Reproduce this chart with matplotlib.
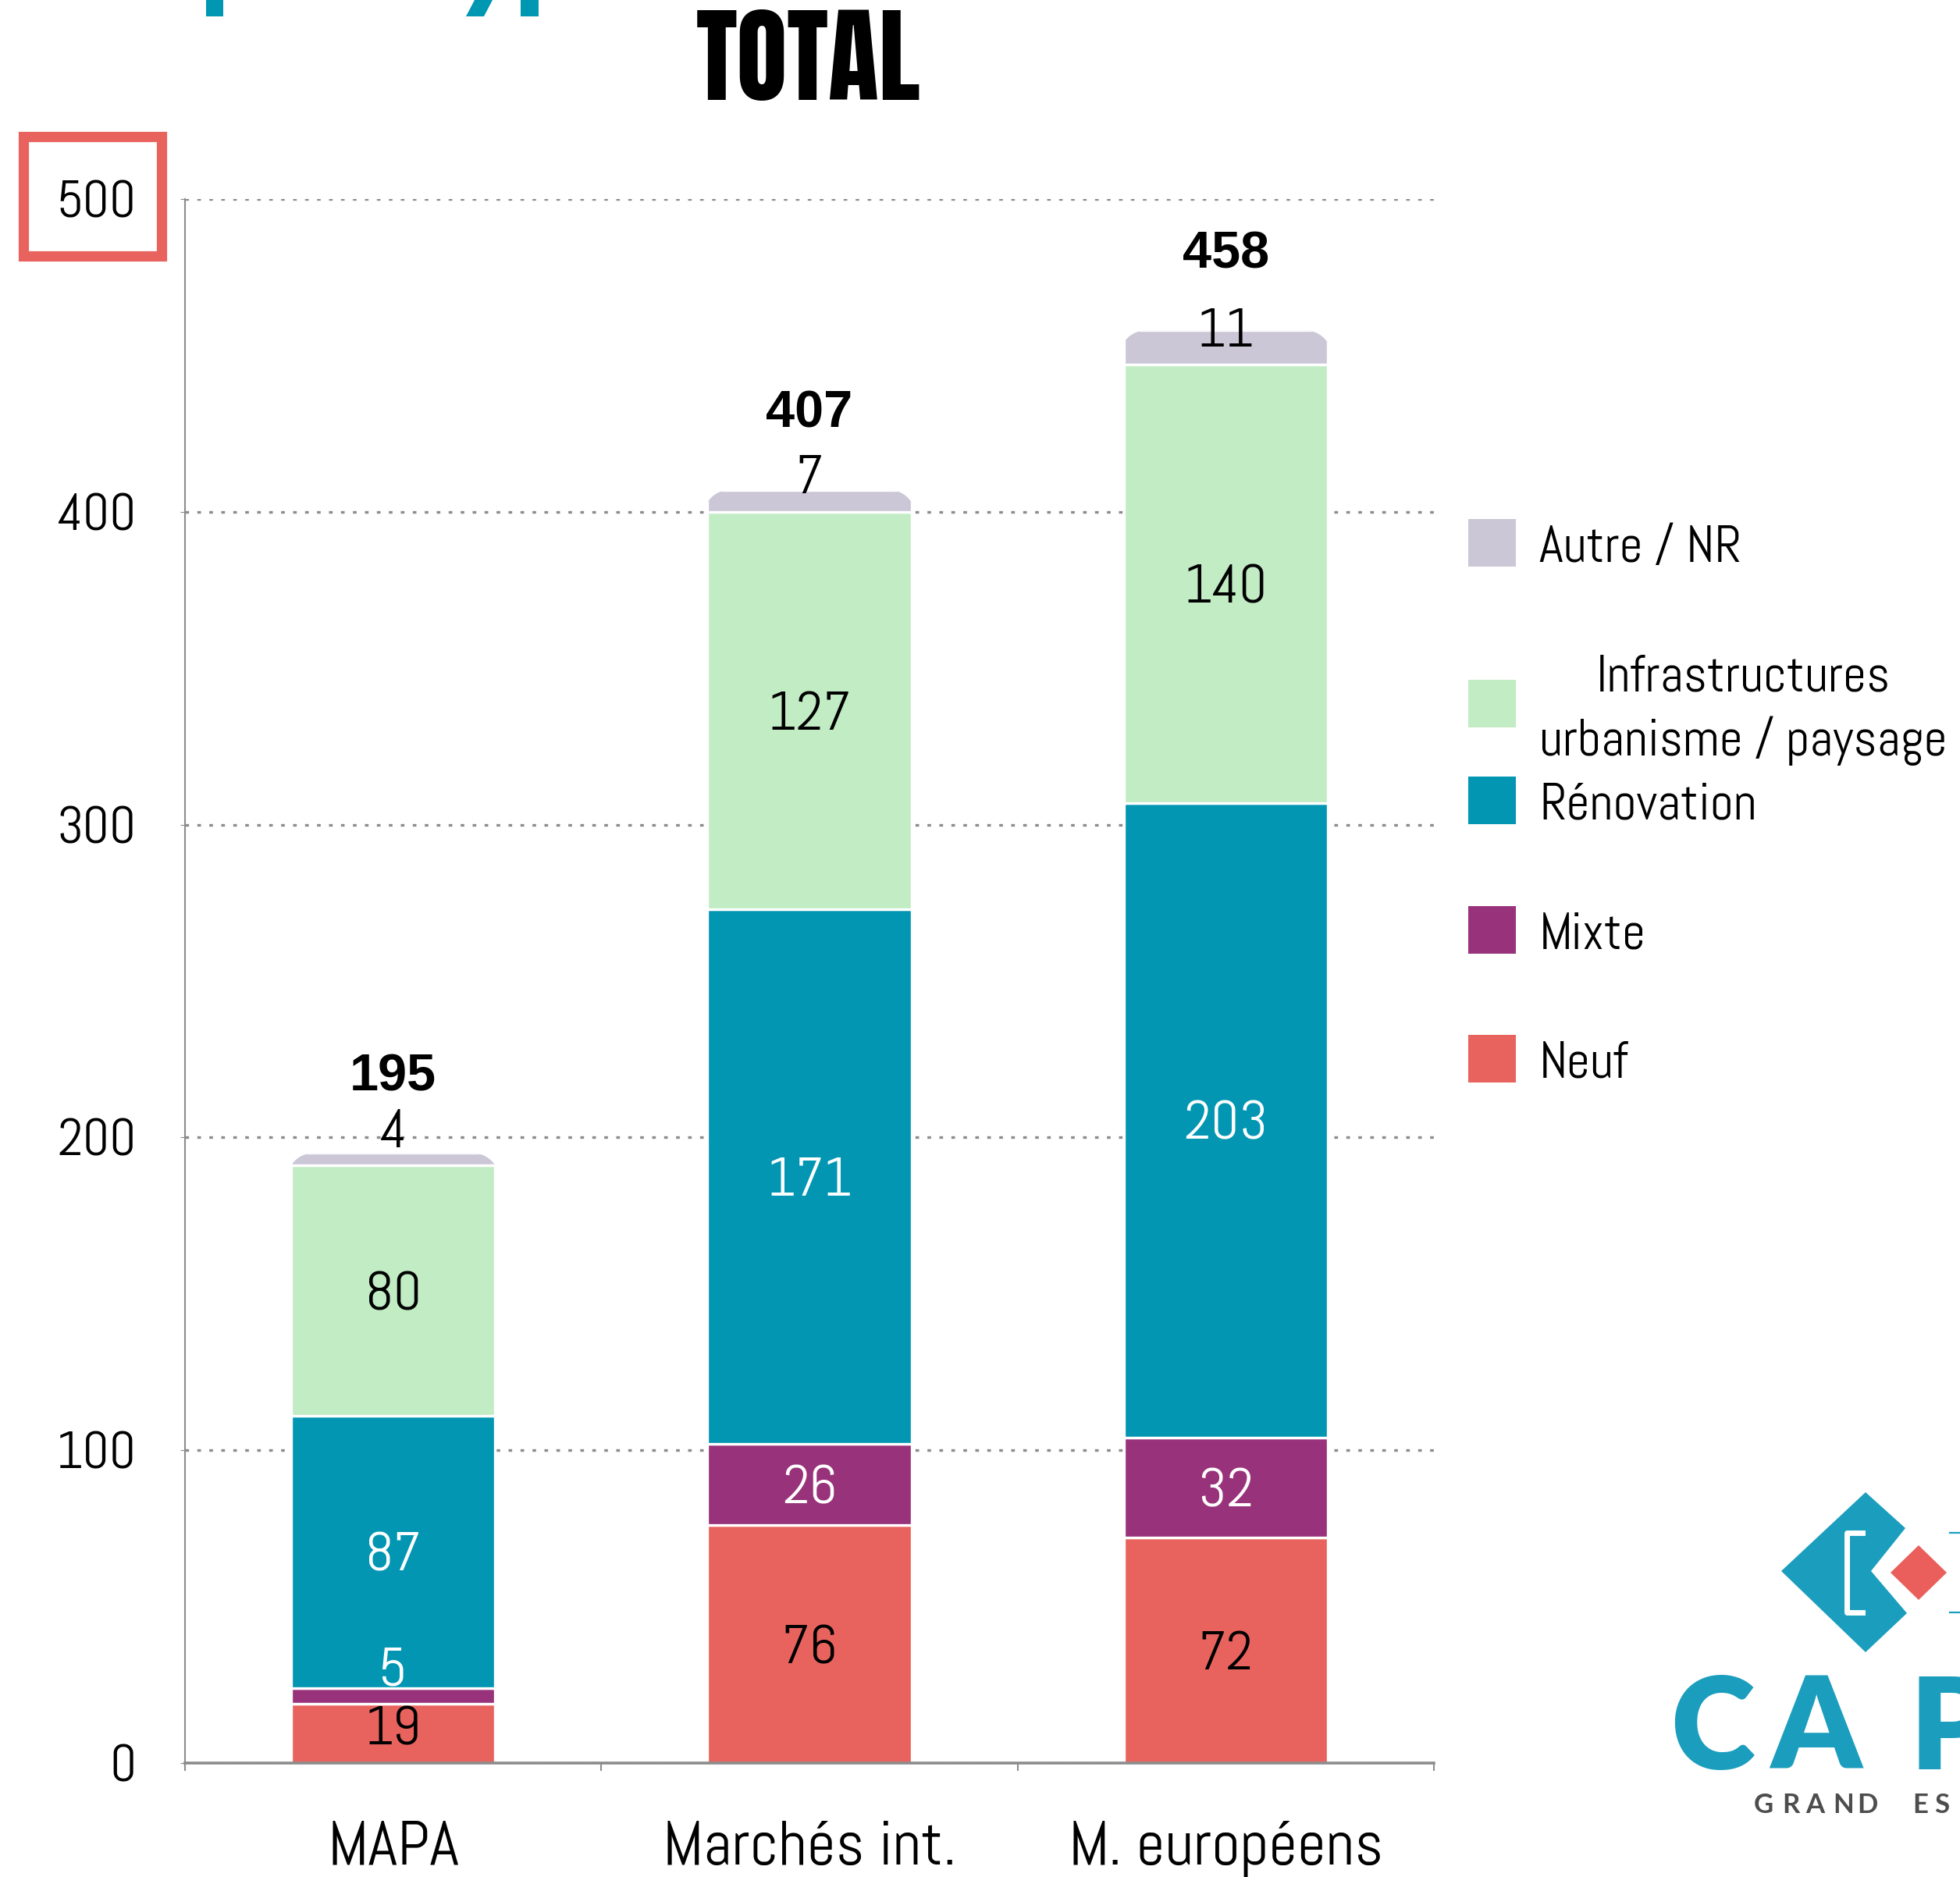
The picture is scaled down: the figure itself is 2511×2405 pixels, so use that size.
import numpy as np
import matplotlib
matplotlib.use('Agg')
import matplotlib.pyplot as plt
from matplotlib import font_manager as fm
from matplotlib.path import Path
from matplotlib.patches import Rectangle, Polygon
from matplotlib.lines import Line2D

# ---- data -------------------------------------------------------------
categories = ['MAPA', 'Marchés int.', 'M. européens']
series_names = ['Neuf', 'Mixte', 'Rénovation',
                'Infrastructures\nurbanisme / paysage', 'Autre / NR']
neuf = [19, 76, 72]
mixte = [5, 26, 32]
renovation = [87, 171, 203]
infrastructures = [80, 127, 140]
autre = [4, 7, 11]
totals = [195, 407, 458]
y_ticks = [0, 100, 200, 300, 400, 500]

colors = ['#E9635E', '#98327A', '#0296B3', '#C1ECC4', '#CBC7D7']
label_colors = ['black', 'white', 'white', 'black', 'black']

# ---- fonts ------------------------------------------------------------
available = {f.name for f in fm.fontManager.ttflist}


def first_font(cands, default='DejaVu Sans'):
    for c in cands:
        if c in available:
            return c
    return default


NARROW = first_font(['Abel', 'Roboto Condensed', 'Liberation Sans Narrow'])
HEAVY = first_font(['Anton', 'Bebas Neue', 'Oswald', 'Roboto Condensed'])
BOLD = first_font(['Liberation Sans', 'Roboto', 'Arial'])
LOGO = first_font(['Lato', 'Open Sans', 'Roboto'])

W, H = 2511, 2405
DPI = 100


def fx(x):
    return x / W


def fy(y):
    return 1 - y / H


fig = plt.figure(figsize=(W / DPI, H / DPI), dpi=DPI)
fig.patch.set_facecolor('white')

ax_left, ax_right = 237, 1837
ax_top, ax_bottom = 255, 2259
ax = fig.add_axes([fx(ax_left), fy(ax_bottom),
                   (ax_right - ax_left) / W, (ax_bottom - ax_top) / H])
ax.set_xlim(-0.5, 2.5)
ax.set_ylim(0, 500)

# ---- stacked bars with rounded tops -------------------------------------
stack = [neuf, mixte, renovation, infrastructures, autre]
x = np.arange(len(categories))
bar_w = 0.49
px_x = (ax_right - ax_left) / 3.0
px_y = (ax_bottom - ax_top) / 500.0
radius = 34
rx, ry = radius / px_x, radius / px_y


def rounded_top(xc, top):
    x0, x1 = xc - bar_w / 2 - 0.01, xc + bar_w / 2 + 0.01
    t = np.linspace(np.pi, np.pi / 2, 20)
    left_arc = np.c_[x0 + rx + rx * np.cos(t), top - ry + ry * np.sin(t)]
    t2 = np.linspace(np.pi / 2, 0, 20)
    right_arc = np.c_[x1 - rx + rx * np.cos(t2), top - ry + ry * np.sin(t2)]
    verts = np.vstack([[x0, -5], left_arc, right_arc, [x1, -5], [x0, -5]])
    return Path(verts, closed=True)


bottoms = np.zeros(len(categories))
bar_groups = []
for vals, col in zip(stack, colors):
    bars = ax.bar(x, vals, bar_w, bottom=bottoms, color=col,
                  edgecolor='white', linewidth=2.4, zorder=2)
    bar_groups.append((bars, np.array(vals), bottoms.copy()))
    bottoms = bottoms + np.array(vals)

for bars, vals, bots in bar_groups:
    for i, b in enumerate(bars):
        b.set_clip_path(rounded_top(x[i], bottoms[i]), ax.transData)

# ---- value labels -------------------------------------------------------
for (bars, vals, bots), lc in zip(bar_groups, label_colors):
    for i in range(len(categories)):
        v = vals[i]
        y = bots[i] + v / 2
        if v < 20:
            # thin segments: lift the number so it stays readable
            y += 12 - 0.5 * v
        ax.text(x[i], y, f'{v}', ha='center', va='center_baseline',
                fontsize=51, color=lc, family=NARROW, zorder=5)

for i, tot in enumerate(totals):
    ax.text(x[i], bottoms[i] + 26, f'{tot}', ha='center',
            va='center_baseline', fontsize=48, fontweight='bold',
            family=BOLD, color='black', zorder=5)

# ---- axes styling -------------------------------------------------------
ax.set_axisbelow(True)
ax.yaxis.grid(True, color='#8c8c8c', linestyle=(0, (1.4, 3.2)),
              linewidth=2.4)
ax.set_yticks(y_ticks)
ax.set_yticklabels([str(t) for t in y_ticks], family=NARROW, fontsize=48)
ax.tick_params(axis='y', length=4, color='#8c8c8c', pad=41)

ax.set_xticks([-0.5, 0.5, 1.5, 2.5])
ax.set_xticklabels([])
ax.tick_params(axis='x', which='major', length=7, width=1.5,
               color='#8c8c8c', direction='out')
ax.set_xticks(x, minor=True)
ax.set_xticklabels(categories, minor=True, family=NARROW, fontsize=58)
ax.tick_params(axis='x', which='minor', length=0, pad=53)

for side in ('top', 'right'):
    ax.spines[side].set_visible(False)
ax.spines['left'].set_color('#8c8c8c')
ax.spines['left'].set_linewidth(1.5)
ax.spines['bottom'].set_color('#8c8c8c')
ax.spines['bottom'].set_linewidth(2.6)

# ---- title --------------------------------------------------------------
fig.text(fx(1036), fy(128), 'TOTAL', ha='center', va='baseline',
         fontsize=96, family=HEAVY, color='black')

# fragments of the teal heading above the frame
teal = '#0097B2'
for pts in ([(264, 0), (286, 0), (286, 21), (264, 21)],
            [(608, 0), (631, 0), (620, 21), (597, 21)],
            [(667, 0), (690, 0), (690, 21), (667, 21)]):
    fig.patches.append(Polygon([(fx(a), fy(b)) for a, b in pts],
                               closed=True, transform=fig.transFigure,
                               facecolor=teal, edgecolor='none'))

# highlight box around the top tick value
fig.patches.append(Rectangle((fx(30), fy(328)), (207 - 30) / W,
                             (328 - 175) / H, transform=fig.transFigure,
                             fill=False, edgecolor='#E9635E', linewidth=9.5))

# ---- legend -------------------------------------------------------------
legend_y = [1357, 1192, 1026, 902, 696]
text_y = [1357, 1192, 1026, 894, 696]
for name, col, ly, ty in zip(series_names, colors, legend_y, text_y):
    fig.patches.append(Rectangle((fx(1881), fy(ly + 30)), 61 / W, 61 / H,
                                 transform=fig.transFigure,
                                 facecolor=col, edgecolor='none'))
    fig.text(fx(1972), fy(ty), name, ha='left', va='center_baseline',
             multialignment='center', fontsize=47.5, family=NARROW,
             linespacing=1.37)

# ---- logo ---------------------------------------------------------------
logo_teal = '#1B9EBE'
logo_red = '#EA5F5B'
chevron = [(2282, 2013), (2390, 1912), (2441, 1958), (2397, 2013),
           (2443, 2067), (2390, 2117)]
fig.patches.append(Polygon([(fx(a), fy(b)) for a, b in chevron],
                           closed=True, transform=fig.transFigure,
                           facecolor=logo_teal, edgecolor='none'))
red_d = [(2422, 2015), (2458, 1980), (2494, 2015), (2458, 2050)]
fig.patches.append(Polygon([(fx(a), fy(b)) for a, b in red_d],
                           closed=True, transform=fig.transFigure,
                           facecolor=logo_red, edgecolor='none'))
fig.lines.append(Line2D([fx(2386), fx(2366), fx(2366), fx(2386)],
                        [fy(1964), fy(1964), fy(2066), fy(2066)],
                        transform=fig.transFigure, color='white', lw=5))
fig.lines.append(Line2D([fx(2498), fx(2512)], [fy(1964), fy(1964)],
                        transform=fig.transFigure, color=logo_teal, lw=1.6))
fig.lines.append(Line2D([fx(2498), fx(2512)], [fy(2066), fy(2066)],
                        transform=fig.transFigure, color=logo_teal, lw=1.6))
for ch, lx in zip('CAP', [2140, 2268, 2446]):
    fig.text(fx(lx), fy(2267), ch, ha='left', va='baseline', fontsize=118,
             fontweight='heavy', family=LOGO, color=logo_teal)
for ch, lx in zip('GRANDES', [2247, 2283, 2313, 2348, 2379, 2450, 2478]):
    fig.text(fx(lx), fy(2323), ch, ha='left', va='baseline', fontsize=25,
             fontweight='bold', family=LOGO, color='#4d4d4d')

fig.savefig('out.png', dpi=DPI, facecolor='white')
